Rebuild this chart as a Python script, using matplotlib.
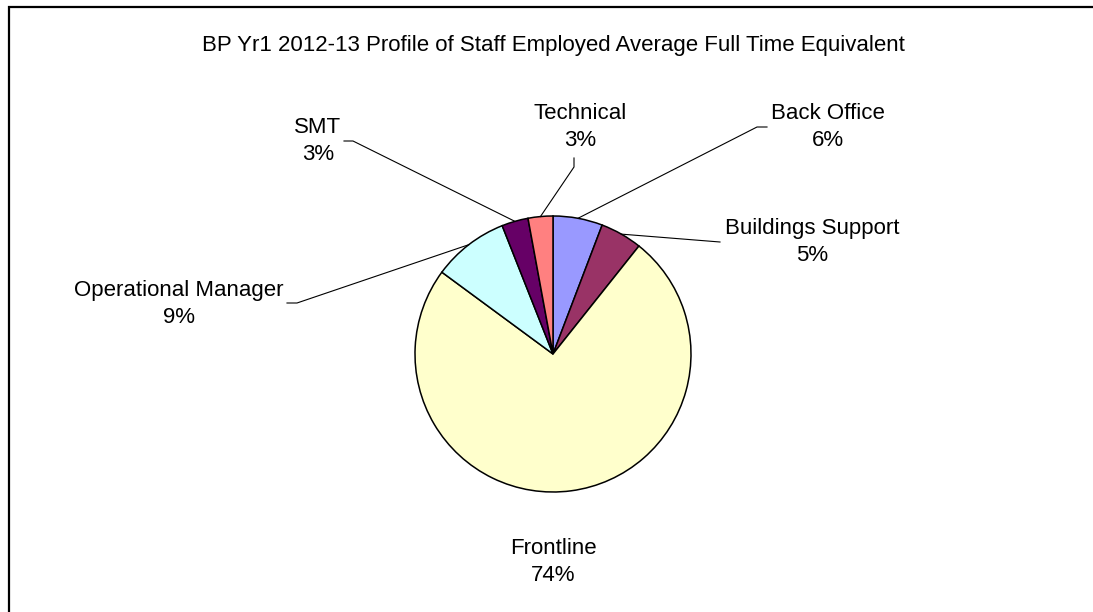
import numpy as np
import matplotlib
matplotlib.use("Agg")
from matplotlib import pyplot as plt

# staff profile (percent of FTE)
categories = ['Back Office', 'Buildings Support', 'Frontline',
              'Operational Manager', 'SMT', 'Technical']
shares = [5.8, 4.9, 74.4, 8.9, 3.1, 2.9]
pct_labels = ['6%', '5%', '74%', '9%', '3%', '3%']
colours = ['#9999FF', '#993366', '#FFFFCC', '#CCFFFF', '#660066', '#FF8080']

plt.rcParams['font.family'] = ['Liberation Sans', 'DejaVu Sans']

W, H = 1093, 612
fig = plt.figure(figsize=(W / 100, H / 100), dpi=100)
ax = fig.add_axes([0, 0, 1, 1])

cx, cy, r = 553, H - 354, 138
wedges, _ = ax.pie(shares, colors=colours, startangle=90, counterclock=False,
                   center=(cx, cy), radius=r, frame=True,
                   wedgeprops=dict(edgecolor='black', linewidth=1.1))
ax.set_xlim(0, W)
ax.set_ylim(0, H)
ax.set_aspect('equal')
ax.axis('off')

# label text centre and leader elbow (figure pixels, y measured from top)
label_pos = [(828, 127), (812, 242), (553, 562), (179, 304), (318, 141), (580, 127)]
elbows = [[(757, 127), (767, 127)], [(720, 242)], None,
          [(297, 303), (287, 303)], [(353, 141), (344, 141)],
          [(574, 167), (574, 158)]]

for w, name, pct, (lx, ly), elb in zip(wedges, categories, pct_labels, label_pos, elbows):
    mid = np.deg2rad((w.theta1 + w.theta2) / 2)
    ax.text(lx, H - ly, name + '\n' + pct, ha='center', va='center',
            fontsize=16, linespacing=1.36)
    if elb is None:
        continue
    xs = [cx + r * np.cos(mid)] + [p[0] for p in elb]
    ys = [cy + r * np.sin(mid)] + [H - p[1] for p in elb]
    ax.plot(xs, ys, color='black', linewidth=0.8)

ax.text(553, H - 46, 'BP Yr1 2012-13 Profile of Staff Employed Average Full Time Equivalent',
        ha='center', va='center', fontsize=16)

# chart border (cropped at right and bottom)
ax.plot([9, 9, W + 5], [-5, H - 7, H - 7], color='black', linewidth=1.6,
        solid_joinstyle='miter')

fig.savefig('out.png', dpi=100)
